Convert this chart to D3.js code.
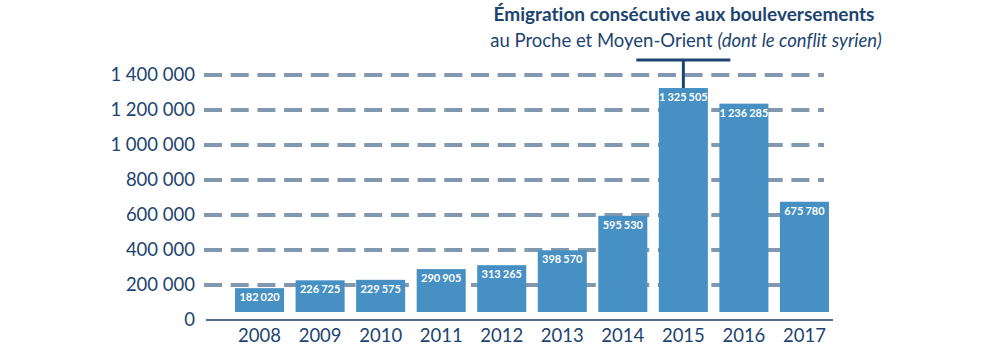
<!DOCTYPE html>
<html>
<head>
<meta charset="utf-8">
<script src="https://cdn.jsdelivr.net/npm/d3@7"></script>
<style>
  html, body { margin: 0; padding: 0; background: #ffffff; }
  svg { display: block; }
  text { font-variant-ligatures: none; font-feature-settings: "liga" 0; }
</style>
</head>
<body>
<svg id="chart" width="1000" height="350"></svg>
<script>
const years = ["2008", "2009", "2010", "2011", "2012", "2013", "2014", "2015", "2016", "2017"];
const values = [182020, 226725, 229575, 290905, 313265, 398570, 595530, 1325505, 1236285, 675780];
const yTicks = [0, 200000, 400000, 600000, 800000, 1000000, 1200000, 1400000];
const titleText = "Émigration consécutive aux bouleversements";
const subtitleRegular = "au Proche et Moyen-Orient ";
const subtitleItalic = "(dont le conflit syrien)";
const annotatedYear = "2015";

const FONT = "Lato, 'Open Sans', sans-serif";
const NAVY = "#1d4470";
const BAR = "#4690c3";
const GRID = "#8198ae";

const fr = d3.formatLocale({ decimal: ",", thousands: " ", grouping: [3], currency: ["", " €"] });
const fmt = fr.format(",d");

const svg = d3.select("#chart");

const x = d3.scaleBand().domain(years).range([229, 835]).paddingInner(0.19).paddingOuter(0.1);
const y = d3.scaleLinear().domain([0, 1400000]).range([320, 75]);
const barGap = 8;

// gridlines (dashed)
svg.append("g")
  .selectAll("line")
  .data(yTicks.filter(d => d > 0))
  .join("line")
  .attr("x1", 204).attr("x2", 824)
  .attr("y1", d => y(d)).attr("y2", d => y(d))
  .attr("stroke", GRID)
  .attr("stroke-width", 4)
  .attr("stroke-dasharray", "18 8.7");

// y tick labels
const yAxis = d3.axisLeft(y).tickValues(yTicks).tickFormat(fmt).tickSize(0).tickPadding(0);
const gy = svg.append("g").attr("transform", "translate(195,0)").call(yAxis);
gy.select(".domain").remove();
gy.selectAll("text")
  .attr("font-family", FONT).attr("font-size", 18.5).attr("fill", NAVY)
  .attr("dy", "0.3em");

// bars
svg.append("g")
  .selectAll("rect")
  .data(values)
  .join("rect")
  .attr("x", (d, i) => x(years[i]))
  .attr("width", x.bandwidth())
  .attr("y", d => y(d))
  .attr("height", d => y(0) - barGap - y(d))
  .attr("fill", BAR);

// bar value labels
svg.append("g")
  .selectAll("text")
  .data(values)
  .join("text")
  .attr("x", (d, i) => x(years[i]) + x.bandwidth() / 2)
  .attr("y", d => y(d) + 13)
  .attr("text-anchor", "middle")
  .attr("font-family", FONT).attr("font-weight", 700).attr("font-size", 11)
  .attr("word-spacing", "-0.6px")
  .attr("fill", "#ffffff")
  .text(d => fmt(d));

// x axis baseline
svg.append("line")
  .attr("x1", 206).attr("x2", 833)
  .attr("y1", y(0)).attr("y2", y(0))
  .attr("stroke", "#4f6f8f").attr("stroke-width", 2);

// x labels
const xAxis = d3.axisBottom(x).tickSize(0).tickPadding(0);
const gx = svg.append("g").attr("transform", `translate(0,${y(0)})`).call(xAxis);
gx.select(".domain").remove();
gx.selectAll("text")
  .attr("font-family", FONT).attr("font-size", 18.5).attr("fill", NAVY)
  .attr("y", 22).attr("dy", 0);

// annotation bracket
const ai = years.indexOf(annotatedYear);
const cx = x(annotatedYear) + x.bandwidth() / 2;
const bracketY = 60;
svg.append("line")
  .attr("x1", cx - 47).attr("x2", cx + 47)
  .attr("y1", bracketY).attr("y2", bracketY)
  .attr("stroke", NAVY).attr("stroke-width", 3);
svg.append("line")
  .attr("x1", cx).attr("x2", cx)
  .attr("y1", bracketY).attr("y2", y(values[ai]))
  .attr("stroke", NAVY).attr("stroke-width", 3);

// titles
svg.append("text")
  .attr("x", 684).attr("y", 21)
  .attr("text-anchor", "middle")
  .attr("font-family", FONT).attr("font-weight", 700).attr("font-size", 19)
  .attr("fill", NAVY)
  .text(titleText);

const sub = svg.append("text")
  .attr("x", 686).attr("y", 47)
  .attr("text-anchor", "middle")
  .attr("font-family", FONT).attr("font-size", 18.5)
  .attr("fill", NAVY);
sub.append("tspan").text(subtitleRegular);
sub.append("tspan").attr("font-style", "italic").text(subtitleItalic);
</script>
</body>
</html>
